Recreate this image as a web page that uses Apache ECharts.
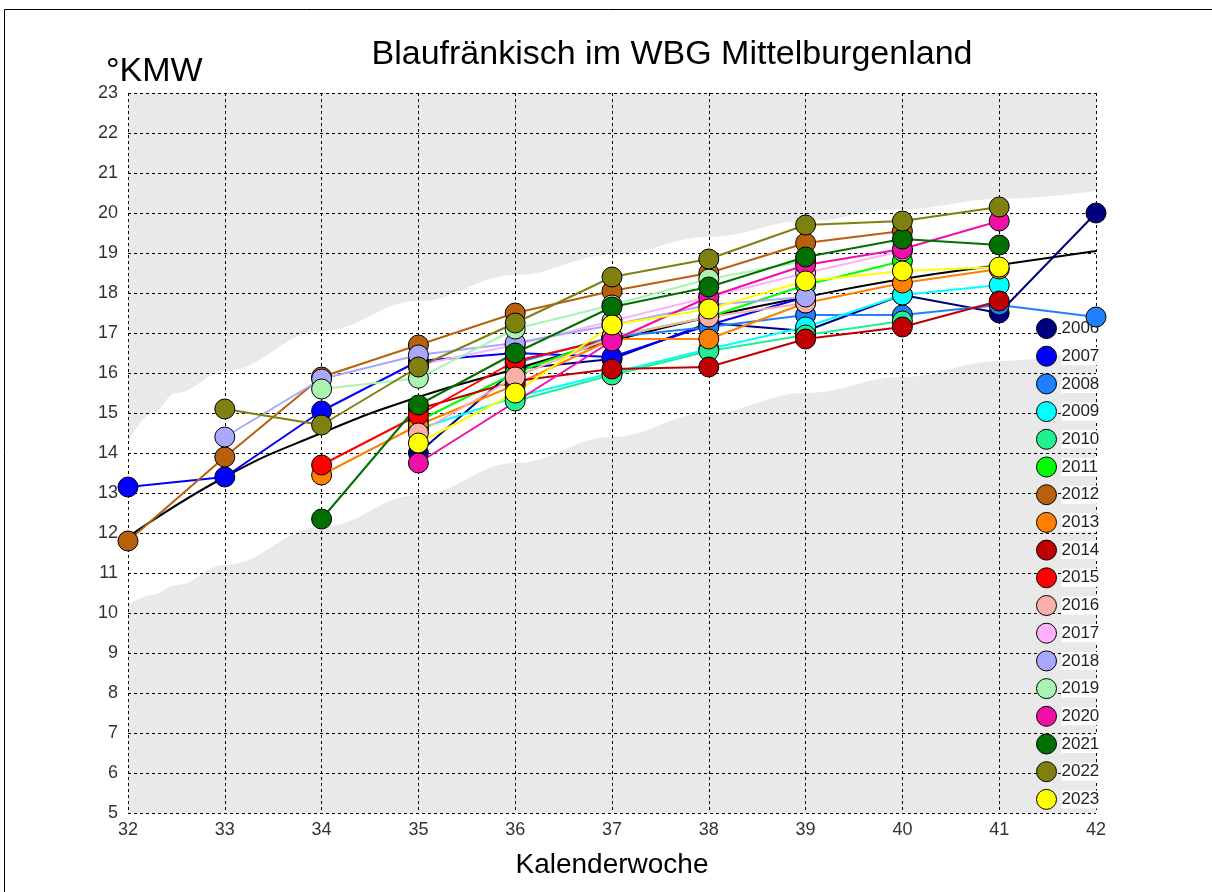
<!DOCTYPE html>
<html><head><meta charset="utf-8">
<script src="https://cdn.jsdelivr.net/npm/echarts@6/dist/echarts.min.js"></script>
<style>html,body{margin:0;padding:0;background:#fff}#c{width:1212px;height:892px}</style>
</head><body><div id="c"></div>
<script>
const titleText = 'Blaufränkisch im WBG Mittelburgenland';
const yUnit = '°KMW';
const xName = 'Kalenderwoche';
const years = ['2006','2007','2008','2009','2010','2011','2012','2013','2014','2015','2016','2017','2018','2019','2020','2021','2022','2023'];
const colors = ['#000080','#0000ff','#1e80ff','#00ffff','#20f090','#00ff00','#b8600c','#ff8000','#c00000','#ff0000','#f8b0a8','#ffb0ff','#a8a8ff','#a8f4b0','#f010a8','#007000','#808010','#ffff00'];

const y2006 = [[35,14.0],[36,16.1],[37,16.35],[38,17.25],[39,17.05],[40,17.95],[41,17.5],[42,20.0]];
const y2007 = [[32,13.15],[33,13.4],[34,15.05],[35,16.3],[36,16.5],[37,16.4],[38,17.2],[39,17.9]];
const y2008 = [[36,16.25],[37,16.9],[38,17.15],[39,17.45],[40,17.45],[41,17.7],[42,17.4]];
const y2009 = [[35,14.6],[36,15.4],[37,16.0],[38,16.6],[39,17.15],[40,17.95],[41,18.2]];
const y2010 = [[36,15.3],[37,15.95],[38,16.55],[39,16.95],[40,17.3]];
const y2011 = [[35,14.8],[36,16.0],[37,16.9],[38,17.4],[39,18.2],[40,18.8]];
const y2012 = [[32,11.8],[33,13.9],[34,15.9],[35,16.7],[36,17.5],[37,18.05],[38,18.5],[39,19.25],[40,19.55]];
const y2013 = [[34,13.45],[35,14.7],[36,15.7],[37,16.85],[38,16.85],[39,17.75],[40,18.25],[41,18.6]];
const y2014 = [[35,15.1],[36,15.8],[37,16.1],[38,16.15],[39,16.85],[40,17.15],[41,17.8]];
const y2015 = [[34,13.7],[35,14.95],[36,16.3],[37,16.85]];
const y2016 = [[35,14.5],[36,15.9],[37,16.9],[38,17.4],[39,17.75]];
const y2017 = [[35,16.2],[36,16.7],[37,17.3],[38,17.9],[39,18.5],[40,19.05]];
const y2018 = [[33,14.4],[34,15.85],[35,16.45],[36,16.75],[37,17.2],[38,17.7],[39,17.9]];
const y2019 = [[34,15.6],[35,15.87],[36,17.1],[37,17.7],[38,18.35],[39,18.8]];
const y2020 = [[35,13.75],[37,16.8],[38,17.9],[39,18.7],[40,19.1],[41,19.8]];
const y2021 = [[34,12.35],[35,15.2],[36,16.5],[37,17.65],[38,18.15],[39,18.9],[40,19.35],[41,19.2]];
const y2022 = [[33,15.1],[34,14.7],[35,16.15],[36,17.25],[37,18.4],[38,18.85],[39,19.7],[40,19.8],[41,20.15]];
const y2023 = [[35,14.25],[36,15.5],[37,17.2],[38,17.6],[39,18.3],[40,18.55],[41,18.65]];
const seriesValues = [y2006,y2007,y2008,y2009,y2010,y2011,y2012,y2013,y2014,y2015,y2016,y2017,y2018,y2019,y2020,y2021,y2022,y2023];

const meanWeeks = [32,33,34,35,36,37,38,39,40,41,42];
const meanValues = [11.9,13.4,14.5,15.4,16.1,16.8,17.4,17.9,18.35,18.7,19.05];

const bandWeeks = [32,32.25,32.5,33,34,35,36,37,38,39,40,41,42];
const bandLower = [10.2,10.45,10.7,11.2,12.15,12.95,13.75,14.4,15.0,15.5,15.9,16.3,16.6];
const bandUpper = [14.25,15.0,15.5,16.05,17.05,17.8,18.45,18.95,19.4,19.8,20.1,20.35,20.55];
const plotTop = [23,23];
const plotEdges = [32,42];

const gridGrey = '#e9e9e9';
const chart = echarts.init(document.getElementById('c'));
const font = 'Liberation Sans, Arial, sans-serif';

const series = [];
series.push({type:'line', name:'_bg', symbol:'none', silent:true,
  data: plotEdges.map((w,i)=>[w,plotTop[i]]), lineStyle:{opacity:0}, areaStyle:{color:gridGrey, opacity:1, origin:'start'}, z:-3});
series.push({type:'line', name:'_upper', smooth:0.4, smoothMonotone:'x', symbol:'none', silent:true,
  data: bandWeeks.map((w,i)=>[w,bandUpper[i]]), lineStyle:{opacity:0}, areaStyle:{color:'#ffffff', opacity:1, origin:'start'}, z:-2});
series.push({type:'line', name:'_lower', smooth:0.4, smoothMonotone:'x', symbol:'none', silent:true,
  data: bandWeeks.map((w,i)=>[w,bandLower[i]]), lineStyle:{opacity:0}, areaStyle:{color:gridGrey, opacity:1, origin:'start'}, z:-1});
series.push({type:'line', name:'_mean', smooth:true, symbol:'none', silent:true,
  data: meanWeeks.map((w,i)=>[w,meanValues[i]]), lineStyle:{color:'#000', width:2}, z:3});
years.forEach((y,i)=>{
  series.push({type:'line', name:y, data: seriesValues[i], symbol:'circle', symbolSize:20,
    color: colors[i],
    lineStyle:{color:colors[i], width:2},
    itemStyle:{color:colors[i], borderColor:'#000', borderWidth:1}, z:4});
});

chart.setOption({
  animation:false,
  backgroundColor:'#fff',
  title:{text:titleText, left:667, top:33, textAlign:'center',
    textStyle:{fontFamily:font, fontSize:34, fontWeight:'normal', color:'#000'}},
  graphic:[
    {type:'rect', left:2, top:7, shape:{width:1209, height:890}, style:{fill:'none', stroke:'#000', lineWidth:1}, silent:true},
    {type:'text', left:106, top:55, style:{text:yUnit, font:'34px Liberation Sans, Arial, sans-serif', fill:'#000'}}
  ],
  legend:{data:years, orient:'vertical', left:1031, top:313, itemWidth:20, itemHeight:20, itemGap:6.7,
    icon:'circle', textStyle:{fontFamily:font, fontSize:17, lineHeight:18, color:'#222', backgroundColor:'#fff', padding:0},
    itemStyle:{borderColor:'#000', borderWidth:1}},
  grid:{left:128, top:93, width:968, height:720, show:false},
  xAxis:{type:'value', min:32, max:42, interval:1, name:xName, nameLocation:'middle', nameGap:38,
    nameTextStyle:{fontFamily:font, fontSize:28, color:'#000'},
    axisLine:{show:false}, axisTick:{show:false},
    axisLabel:{fontFamily:font, fontSize:18, color:'#333', margin:8},
    splitLine:{show:true, lineStyle:{color:'#000', type:[3,3], width:1}}},
  yAxis:{type:'value', min:5, max:23, interval:1,
    axisLine:{show:false}, axisTick:{show:false},
    axisLabel:{fontFamily:font, fontSize:18, color:'#333', margin:10},
    splitLine:{show:true, lineStyle:{color:'#000', type:[3,3], width:1}}},
  series: series
});
</script></body></html>
